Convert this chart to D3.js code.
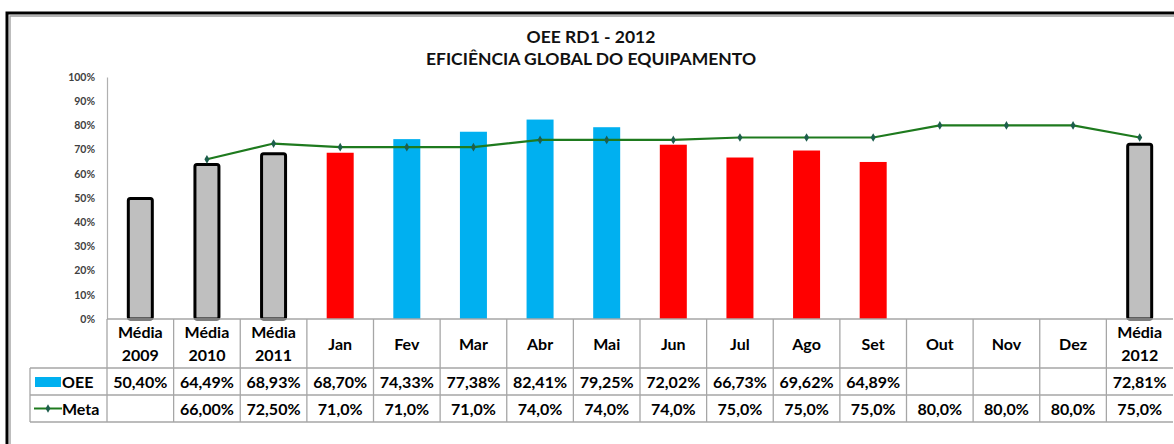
<!DOCTYPE html>
<html><head><meta charset="utf-8">
<script src="https://cdn.jsdelivr.net/npm/d3@7"></script>
<style>
html,body{margin:0;padding:0;background:#fff;}
svg{display:block;}
text{font-family:Lato,"Open Sans",sans-serif;}
</style></head>
<body>
<svg id="c" width="1174" height="444"></svg>
<script>
const categories = ["Média 2009","Média 2010","Média 2011","Jan","Fev","Mar","Abr","Mai","Jun","Jul","Ago","Set","Out","Nov","Dez","Média 2012"];
const oee  = [50.40,64.49,68.93,68.70,74.33,77.38,82.41,79.25,72.02,66.73,69.62,64.89,null,null,null,72.81];
const meta = [null,66.00,72.50,71.0,71.0,71.0,74.0,74.0,74.0,75.0,75.0,75.0,80.0,80.0,80.0,75.0];
const metaDecimals = [2,2,2,1,1,1,1,1,1,1,1,1,1,1,1,1];
const yTicks = [0,10,20,30,40,50,60,70,80,90,100];
const titleLines = ["OEE RD1 - 2012","EFICIÊNCIA GLOBAL DO EQUIPAMENTO"];
const seriesNames = ["OEE","Meta"];

const svg = d3.select("#c");
const W = 1174;
const plotL = 107, plotR = 1173, plotT = 77, plotB = 319;
const rowH = [368, 395, 422];
const tableL = 30;
const gridCol = "#a6a6a6";
const tf = 16;

// frame
svg.append("path").attr("d",`M7,444 V13 H${W}`).attr("fill","none").attr("stroke","#000").attr("stroke-width",3);
svg.append("path").attr("d",`M10,444 V16 H${W}`).attr("fill","none").attr("stroke","#9a9a9a").attr("stroke-width",1.3);

// title
svg.append("g").selectAll("text").data(titleLines).join("text")
  .attr("x",591).attr("y",(d,i)=>43+i*22).attr("text-anchor","middle")
  .attr("font-size",17.5).attr("font-weight","bold").attr("fill","#111").text(d=>d);

const x = d3.scaleBand().domain(categories).range([plotL,plotR]);
const y = d3.scaleLinear().domain([0,100]).range([plotB,plotT]);
const bw = 27;

// y axis
const yAxis = d3.axisLeft(y).tickValues(yTicks).tickSize(0).tickPadding(12).tickFormat(d=>d+"%");
const ga = svg.append("g").attr("transform",`translate(${plotL},0)`).call(yAxis);
ga.select(".domain").attr("stroke","#b0b0b0").attr("stroke-width",1.2);
ga.selectAll("text").attr("font-size",10.5).attr("font-weight","bold").attr("fill","#404040").attr("font-family","Lato,sans-serif");

// bars
const isMedia = c => c.startsWith("Média");
const bars = categories.map((c,i)=>({c,v:oee[i],m:meta[i]})).filter(d=>d.v!=null);
svg.append("g").selectAll("rect").data(bars).join("rect")
  .attr("x",d=> isMedia(d.c) ? x(d.c)+x.bandwidth()/2-bw/2+1.5 : x(d.c)+x.bandwidth()/2-bw/2)
  .attr("width",d=> isMedia(d.c) ? bw-3 : bw)
  .attr("y",d=> isMedia(d.c) ? y(d.v)+1.5 : y(d.v))
  .attr("height",d=> isMedia(d.c) ? y(0)-y(d.v)-1.5 : y(0)-y(d.v))
  .attr("rx",d=>isMedia(d.c)?2:0)
  .attr("fill",d=> isMedia(d.c) ? "#bfbfbf" : (d.v>=d.m ? "#00b0f0" : "#ff0000"))
  .attr("stroke",d=> isMedia(d.c) ? "#000" : "none")
  .attr("stroke-width",3);

// meta line
const mpts = categories.map((c,i)=>({c,m:meta[i]})).filter(d=>d.m!=null);
const cx = c => x(c)+x.bandwidth()/2;
svg.append("path").datum(mpts)
  .attr("d",d3.line().x(d=>cx(d.c)).y(d=>y(d.m)))
  .attr("fill","none").attr("stroke","#1e7a1e").attr("stroke-width",2.2);
svg.append("g").selectAll("path").data(mpts).join("path")
  .attr("d",d3.symbol(d3.symbolDiamond,22))
  .attr("transform",d=>`translate(${cx(d.c)},${y(d.m)})`)
  .attr("fill","#1d5e4c");

// table grid
const tg = svg.append("g").attr("stroke",gridCol).attr("stroke-width",1.3);
tg.append("line").attr("x1",plotL).attr("x2",plotR).attr("y1",plotB).attr("y2",plotB);
rowH.forEach(yy=>tg.append("line").attr("x1",tableL).attr("x2",plotR).attr("y1",yy).attr("y2",yy));
categories.forEach(c=>{
  tg.append("line").attr("x1",x(c)).attr("x2",x(c)).attr("y1",plotB).attr("y2",rowH[2]);
});
tg.append("line").attr("x1",tableL).attr("x2",tableL).attr("y1",rowH[0]).attr("y2",rowH[2]);

// headers
const hg = svg.append("g");
categories.forEach(c=>{
  const parts = c.split(" ");
  const midY = (plotB+rowH[0])/2;
  parts.forEach((p,j)=>{
    hg.append("text").attr("x",cx(c)).attr("y",midY + (j-(parts.length-1)/2)*23 + 6)
      .attr("text-anchor","middle").attr("font-size",tf).attr("font-weight","bold").attr("fill","#000").text(p);
  });
});

const fmt = (v,d) => d3.format(`.${d}f`)(v).replace(".",",")+"%";
const vg = svg.append("g").attr("font-size",tf).attr("font-weight","bold").attr("fill","#000").attr("text-anchor","middle");
categories.forEach((c,i)=>{
  if(oee[i]!=null) vg.append("text").attr("x",cx(c)).attr("y",(rowH[0]+rowH[1])/2+6).text(fmt(oee[i],2));
  if(meta[i]!=null) vg.append("text").attr("x",cx(c)).attr("y",(rowH[1]+rowH[2])/2+6).text(fmt(meta[i],metaDecimals[i]));
});

// legend keys
svg.append("rect").attr("x",35).attr("y",377).attr("width",26).attr("height",10).attr("fill","#00b0f0");
svg.append("line").attr("x1",34).attr("x2",62).attr("y1",408.5).attr("y2",408.5).attr("stroke","#1e7a1e").attr("stroke-width",2);
svg.append("path").attr("d",d3.symbol(d3.symbolDiamond,20)).attr("transform","translate(48,408.5)").attr("fill","#1d5e4c");
svg.append("g").selectAll("text").data(seriesNames).join("text")
  .attr("x",62).attr("y",(d,i)=> i===0 ? (rowH[0]+rowH[1])/2+6 : (rowH[1]+rowH[2])/2+6)
  .attr("font-size",tf).attr("font-weight","bold").attr("fill","#000").text(d=>d);
</script>
</body></html>
